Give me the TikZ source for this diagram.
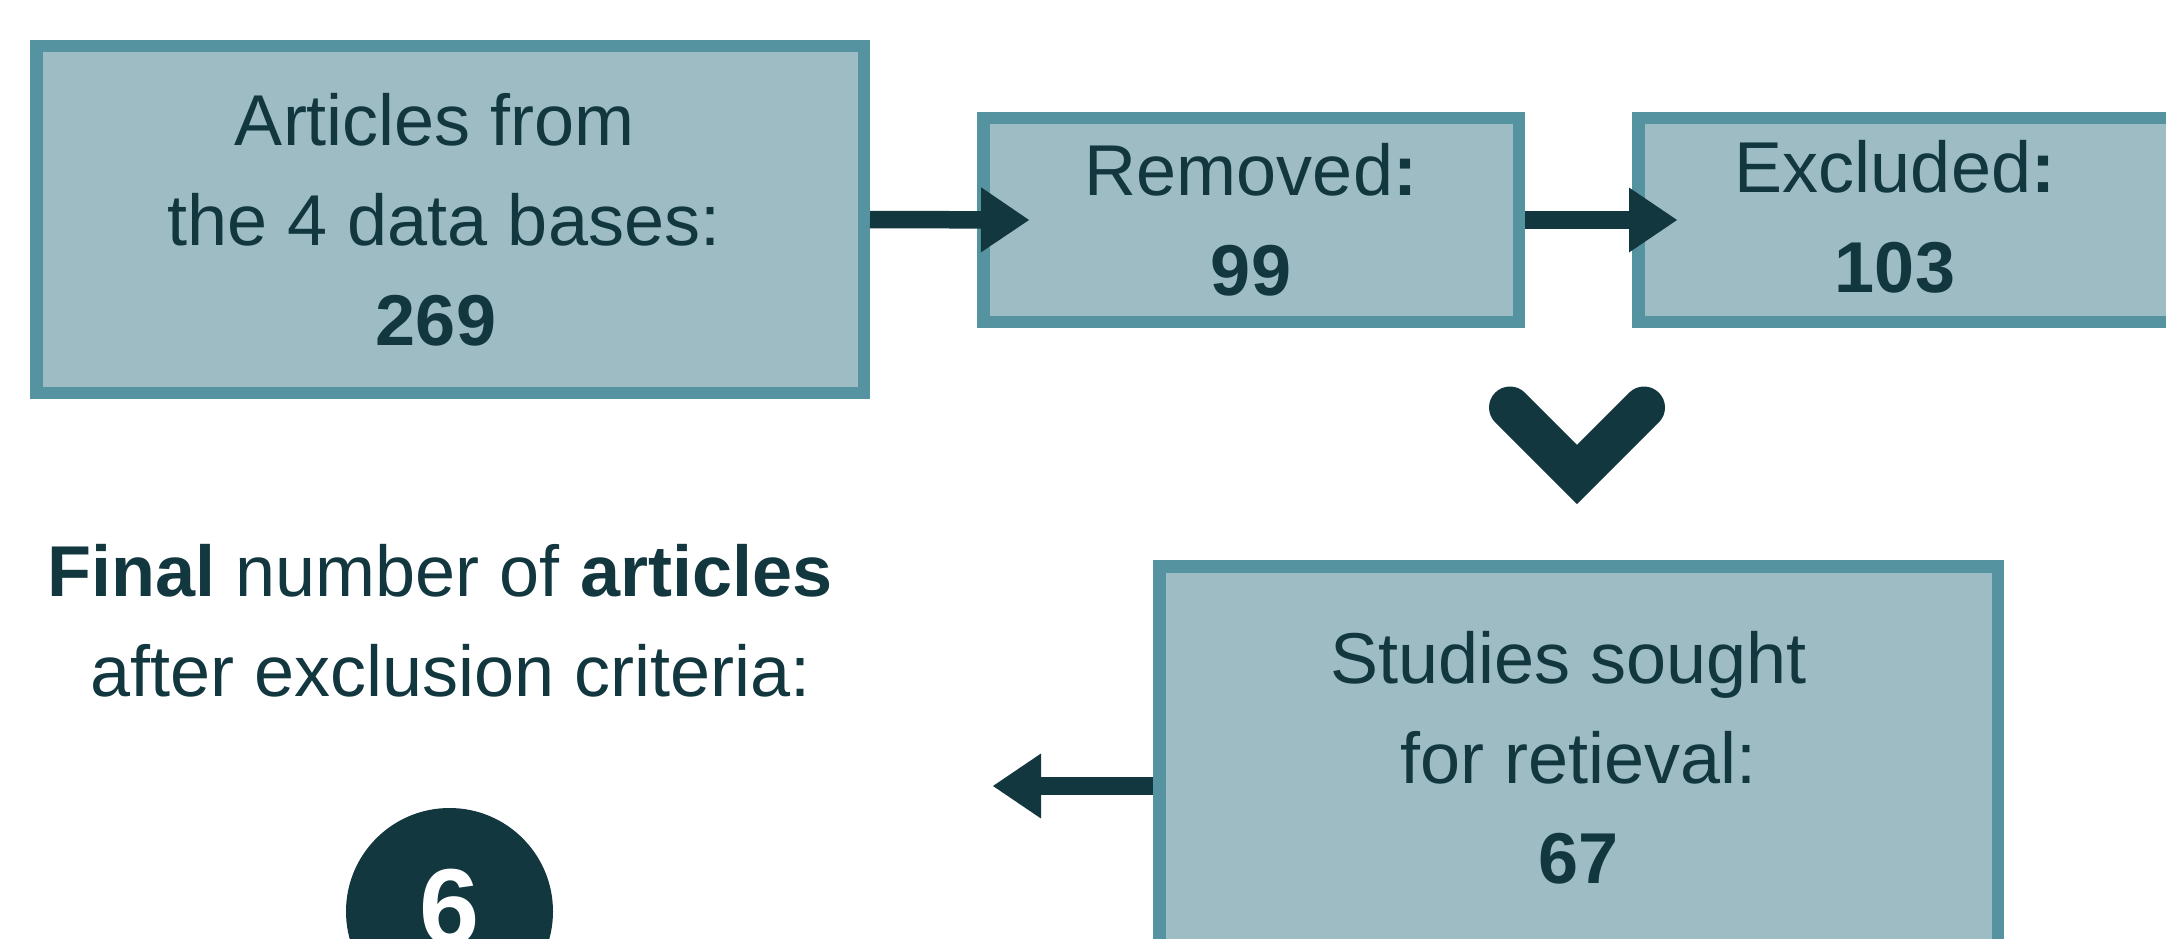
\documentclass[tikz,border=0pt]{standalone}
\usepackage{fontspec}
\setmainfont{Liberation Sans}
\usetikzlibrary{arrows.meta,calc}
\definecolor{boxfill}{HTML}{9DBCC3}
\definecolor{boxline}{HTML}{5593A0}
\definecolor{ink}{HTML}{12373F}
\begin{document}
\begin{tikzpicture}[x=1pt,y=-1pt,
  txt/.style={text=ink, align=center, inner sep=0pt, font=\fontsize{72}{100}\selectfont},
  box/.style={txt, draw=boxline, fill=boxfill, line width=12.5pt},
  conn/.style={draw=ink, line width=17.5pt, -{Triangle[length=48pt,width=65pt,line width=0pt]}},
]
\useasboundingbox (0,0) rectangle (2166,939);
\node[box, minimum width=827.5pt, minimum height=346.5pt] (b1) at (450,219.5)
  {Articles from\hspace{30pt}\mbox{}\\the 4 data bases:\hspace{12pt}\mbox{}\\\textbf{269}\hspace{28pt}\mbox{}};
\node[box, minimum width=535.5pt, minimum height=203.5pt] (b2) at (1251,220)
  {Removed\textbf{:}\\\textbf{99}};
\node[box, minimum width=535.5pt, minimum height=203.5pt] (b3) at (1906,220) {};
\node[txt] (b3t) at (1895,217) {Excluded\textbf{:}\\\textbf{103}};
\node[box, minimum width=838.5pt, minimum height=382.5pt] (b4) at (1578.5,757.5)
  {Studies sought\ \mbox{}\\for retieval:\\\textbf{67}};
\node[txt] (fin) at (440,621)
  {\textbf{Final} number of \textbf{articles}\\\mbox{}\hspace{21pt}after exclusion criteria:};
\node[circle, fill=ink, minimum size=207pt, inner sep=0pt, text=white,
  font=\fontsize{108}{108}\selectfont\bfseries, text height=77pt, text depth=12pt]
  (c6) at (449.5,911.5) {6};
\draw[conn] (b1.east) -- ([xshift=52pt]b2.west);
\draw[conn] (b2.east) -- ([xshift=45pt]b3.west);
\coordinate (fe) at (993,786);
\draw[conn] (b4.west |- fe) -- (fe);
\draw[ink, line width=42pt, line cap=round, line join=miter] (1510,407.5) -- (1577,474.5) -- (1644,407.5);
\end{tikzpicture}
\end{document}
